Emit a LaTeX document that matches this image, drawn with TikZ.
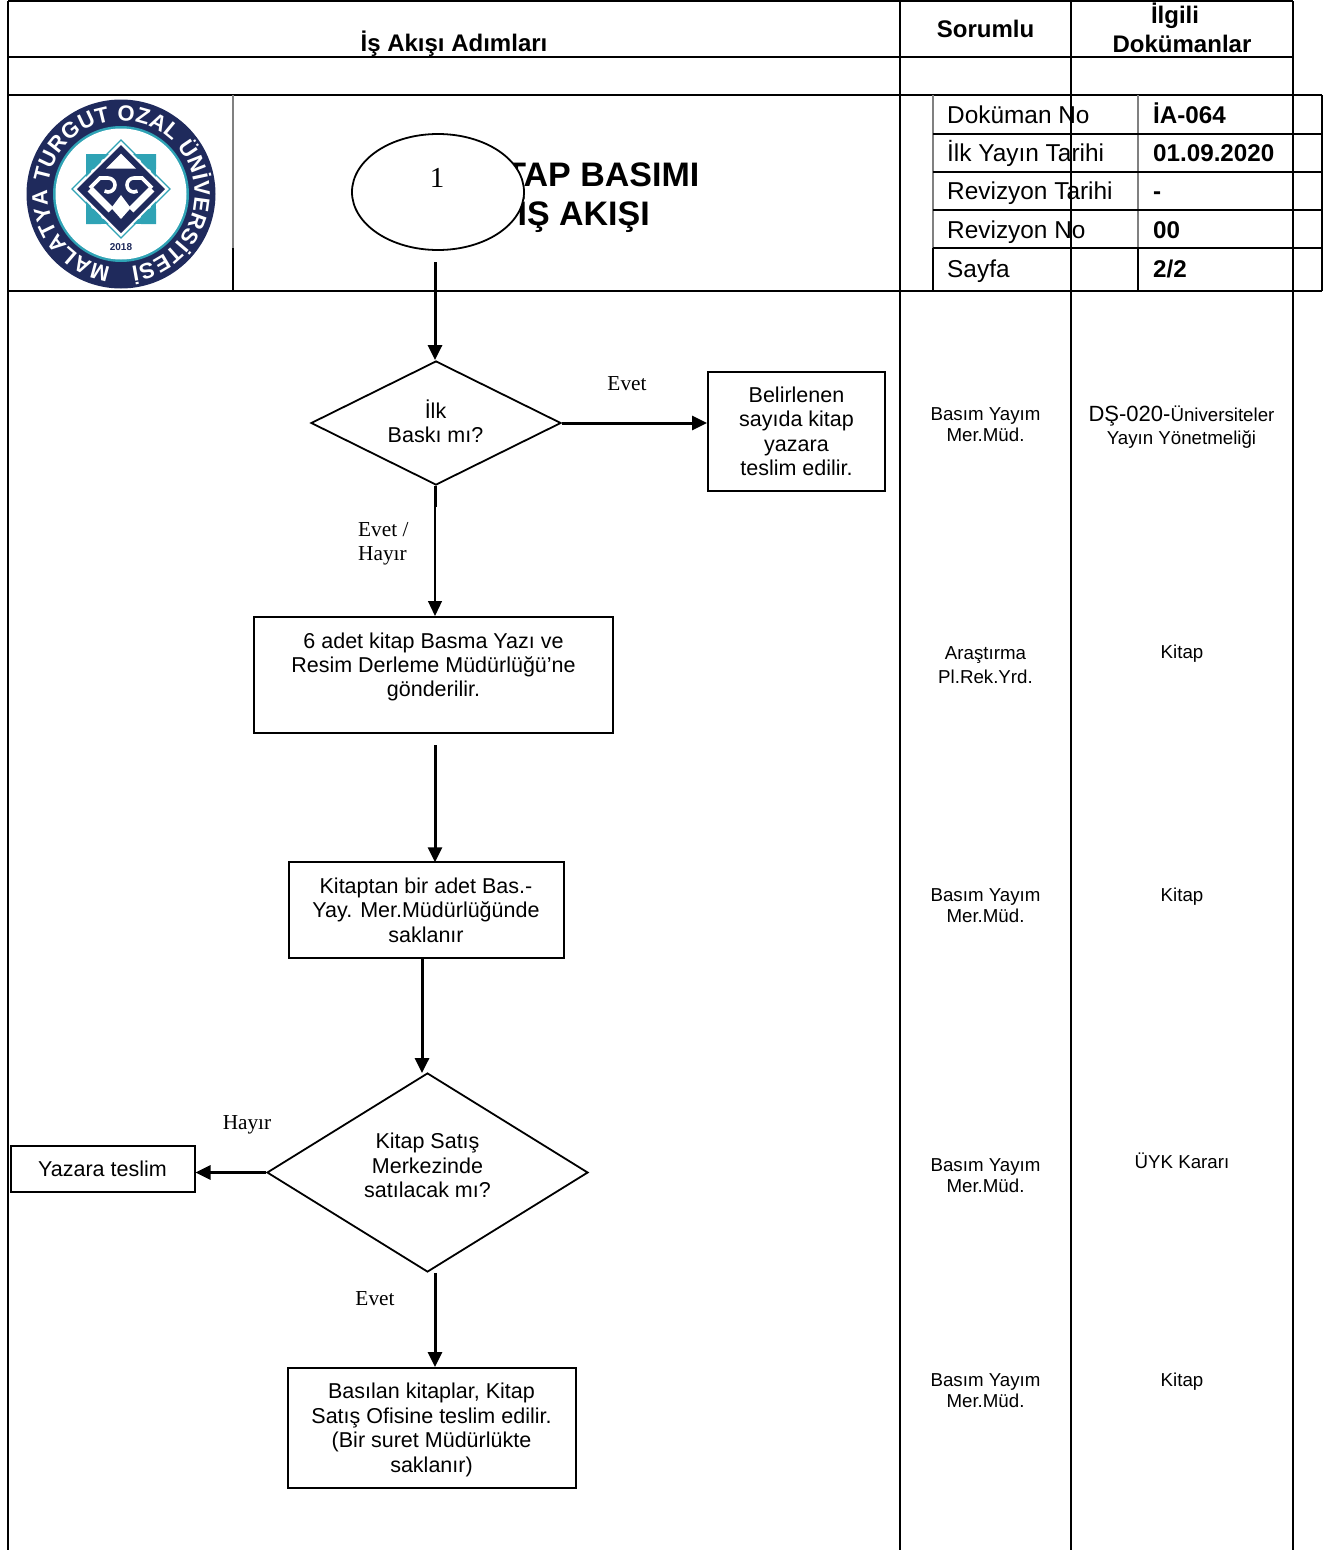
\documentclass[tikz,border=0pt]{standalone}
\usepackage{fontspec}
\setmainfont{Liberation Sans}
\newfontfamily\timesf{Liberation Serif}
\usetikzlibrary{arrows.meta,shapes.geometric,decorations.text}
\definecolor{navy}{HTML}{1F2A5C}
\definecolor{tealc}{HTML}{2FA3B5}
\newcommand{\fs}[2]{\fontsize{#1}{#2}\selectfont}
\tikzset{
  grid/.style={line width=2pt,black},
  flowbox/.style={draw,line width=2pt,rectangle,inner sep=0pt,align=center,font=\fs{21.5}{24.4}},
  decision/.style={draw,line width=1.8pt,diamond,inner sep=0pt},
  flowtext/.style={align=center,font=\fs{21.5}{24.4},inner sep=0pt},
  arr/.style={line width=3pt,-{Triangle[length=15pt,width=14pt]}},
  thinarr/.style={line width=1.2pt,-{Triangle[length=15pt,width=14pt]}},
  side/.style={align=center,font=\fs{18.7}{21},inner sep=0pt},
  serifl/.style={font=\timesf\fs{21.3}{24.4},inner sep=0pt,align=left},
  cellr/.style={anchor=base west,font=\fs{24.4}{26},inner sep=0pt},
  cellb/.style={anchor=base west,font=\bfseries\fs{24.2}{26},inner sep=0pt},
  headb/.style={anchor=base,font=\bfseries\fs{24}{26},inner sep=0pt},
  titleb/.style={anchor=east,font=\bfseries\fs{34}{36},inner sep=0pt},
}
\begin{document}
\begin{tikzpicture}[x=1pt,y=-1pt]
\useasboundingbox (0,0) rectangle (1324,1550);
% outer grid
\draw[grid] (8,1) -- (1293,1) (8,57) -- (1293,57) (8,95) -- (1322,95) (8,291) -- (1322,291);
\draw[grid] (8,1) -- (8,1550) (900,1) -- (900,1550) (1071,1) -- (1071,1550) (1293,1) -- (1293,1550);
\draw[line width=2pt,gray] (233,95) -- (233,248);
\draw[grid] (233,248) -- (233,291);
% document table
\draw[line width=2pt,gray] (933,95) -- (933,248) (1138,95) -- (1138,248);
\draw[grid] (933,248) -- (933,291) (1138,248) -- (1138,291) (1322,95) -- (1322,291);
\draw[grid] (933,133.5) -- (1322,133.5) (933,172) -- (1322,172) (933,210) -- (1322,210) (933,248) -- (1322,248);
% headers
\node[headb] (h1) at (454,51) {İş Akışı Adımları};
\node[headb] (h2) at (985.5,37) {Sorumlu};
\node[headb] (h3) at (1175,23) {İlgili};
\node[headb] (h4) at (1182,52) {Dokümanlar};
% doc info
\node[cellr] (c1) at (947,123.5) {Doküman No};
\node[cellr] (c2) at (947,161.5) {İlk Yayın Tarihi};
\node[cellr] (c3) at (947,199.5) {Revizyon Tarihi};
\node[cellr] (c4) at (947,238.5) {Revizyon No};
\node[cellr] (c5) at (947,277.5) {Sayfa};
\node[cellb] (v1) at (1153,123.5) {İA-064};
\node[cellb] (v2) at (1153,161.5) {01.09.2020};
\node[cellb] (v3) at (1153,199.5) {-};
\node[cellb] (v4) at (1153,238.5) {00};
\node[cellb] (v5) at (1153,277.5) {2/2};
% title
\node[titleb] (t1) at (699.5,172) {KİTAP BASIMI};
\node[titleb] (t2) at (650,214.5) {İŞ AKIŞI};
% logo
\begin{scope}[shift={(121,194)},x=1pt,y=1pt]
  \fill[navy] (0,0) circle[radius=94.5pt];
  \fill[tealc] (0,0) circle[radius=68pt];
  \fill[white] (0,0) circle[radius=65.5pt];
  \path[decorate,decoration={text along path,text align={fit to path},
     text={|\bfseries\fs{22}{22}\color{white}|MALATYA TURGUT OZAL ÜNİVERSİTESİ}}]
     (0,0) ++(262:73.5pt) arc[start angle=262,end angle=-82,radius=73.5pt];
  \begin{scope}[shift={(0,5)}]
    \fill[tealc] (-35,-35) rectangle (35,35);
    \fill[white] (-30,-30) rectangle (30,30);
    \fill[tealc] (-35,-35) rectangle (-20,-20) (35,-35) rectangle (20,-20) (-35,35) rectangle (-20,20) (35,35) rectangle (20,20);
    \fill[white] (0,-47) -- (47,0) -- (0,47) -- (-47,0) -- cycle;
    \draw[tealc,line width=1.4pt] (0,-49) -- (49,0) -- (0,49) -- (-49,0) -- cycle;
    \fill[navy] (0,-44) -- (44,0) -- (0,44) -- (-44,0) -- cycle;
    \fill[white] (0,35.5) -- (15,20.5) -- (-15,20.5) -- cycle;
    \fill[white] (0,-6) -- (9.7,-19) -- (0,-30) -- (-9.7,-19) -- cycle;
    \draw[white,line width=7pt] (-31,0) -- (-10,-21);
    \draw[white,line width=7pt] (31,0) -- (10,-21);
    \draw[white,line width=3.6pt] (-31,1) -- (-21,11) -- (-13,11) arc[start angle=90,end angle=-120,radius=7pt];
    \draw[white,line width=3.6pt] (31,1) -- (21,11) -- (13,11) arc[start angle=90,end angle=300,radius=7pt];
  \end{scope}
  \node[font=\bfseries\fs{10}{10},text=navy,inner sep=0pt] (year) at (0,-53.5) {2018};
\end{scope}
% start
\node[draw,ellipse,fill=white,line width=1.8pt,minimum width=172pt,minimum height=116pt,inner sep=0pt] (start) at (438,192) {};
\node[font=\timesf\fs{29}{30},inner sep=0pt] (startn) at (437,178) {1};
% flow nodes
\node[decision,minimum width=250pt,minimum height=124pt] (d1) at (436,423) {};
\node[flowtext] (d1t) at (435.5,421.5) {İlk\\Baskı mı?};
\node[flowbox,minimum width=177pt,minimum height=119.5pt] (b1) at (796.5,431.5) {Belirlenen\\sayıda kitap\\yazara\\teslim edilir.};
\node[flowbox,minimum width=359.5pt,minimum height=116pt] (b2) at (433.5,675) {};
\node[flowtext] (b2t) at (433.5,667) {6 adet kitap Basma Yazı ve\\Resim Derleme Müdürlüğü’ne\\gönderilir.};
\node[flowbox,minimum width=275pt,minimum height=95.5pt] (b3) at (426,910) {Kitaptan bir adet Bas.-\\Yay. Mer.Müdürlüğünde\\saklanır};
\node[decision,minimum width=321pt,minimum height=199pt] (d2) at (427.5,1172.5) {};
\node[flowtext] (d2t) at (427.5,1165.5) {Kitap Satış\\Merkezinde\\satılacak mı?};
\node[flowbox,minimum width=184pt,minimum height=46pt] (b4) at (102.5,1169) {Yazara teslim};
\node[flowbox,minimum width=288.5pt,minimum height=120pt] (b5) at (432,1428) {};
\node[flowtext] (b5t) at (431.5,1430) {Basılan kitaplar, Kitap\\Satış Ofisine teslim edilir.\\(Bir suret Müdürlükte\\saklanır)};
% connector ends
\coordinate (s0) at (435,262);
\coordinate (s1) at (435,745);
\coordinate (s2) at (435,507);
% connectors
\draw[arr] (s0) -- (s0 |- d1.north);
\draw[arr] (d1.east) -- (b1.west |- d1.east);
\draw[thinarr] (s2 |- d1.south) -- (s2 |- b2.north);
\draw[line width=3pt] (s2 |- d1.south) -- (s2);
\draw[arr] (s1) -- ([yshift=-1pt]s1 |- b3.north);
\draw[arr] ([xshift=-4pt]b3.south) -- ([xshift=-5.5pt,yshift=-1pt]d2.north);
\draw[arr] (d2.west) -- (b4.east |- d2.west);
\draw[arr] (s0 |- d2.south) -- (s0 |- b5.north);
% flow labels
\node[serifl] (l1) at (627,384) {Evet};
\node[serifl,anchor=west] (l2) at (358,544) {Evet /\\Hayır};
\node[serifl] (l3) at (247,1125) {Hayır};
\node[serifl] (l4) at (375,1299) {Evet};
% side columns
\node[side] (r1) at (985.5,424.5) {Basım Yayım\\Mer.Müd.};
\node[side,font=\fs{18.7}{24}] (r2) at (985.5,665) {Araştırma\\Pl.Rek.Yrd.};
\node[side] (r3) at (985.5,906) {Basım Yayım\\Mer.Müd.};
\node[side] (r4) at (985.5,1176) {Basım Yayım\\Mer.Müd.};
\node[side] (r5) at (985.5,1391) {Basım Yayım\\Mer.Müd.};
\node[side,font=\fs{18.7}{23}] (q1) at (1181.5,427.5) {{\fs{22}{23}DŞ-020-}Üniversiteler\\Yayın Yönetmeliği};
\node[side] (q2) at (1182,654) {Kitap};
\node[side] (q3) at (1182,896.5) {Kitap};
\node[side] (q4) at (1182,1161) {ÜYK Kararı};
\node[side] (q5) at (1182,1381.5) {Kitap};
\end{tikzpicture}
\end{document}
